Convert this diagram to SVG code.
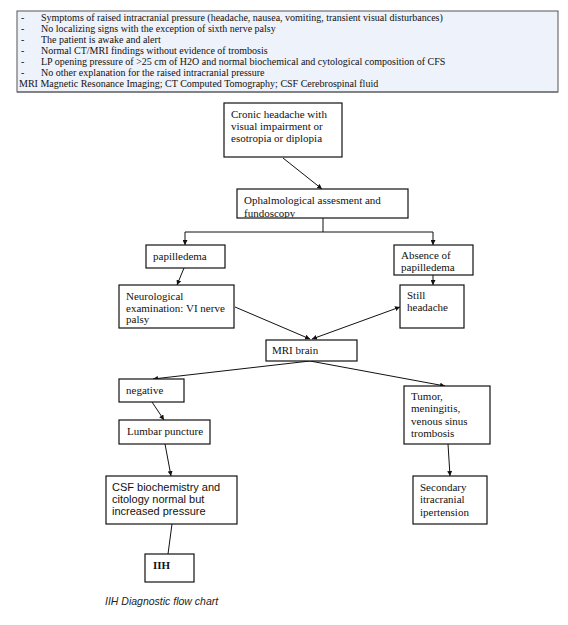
<svg xmlns="http://www.w3.org/2000/svg" width="568" height="625" viewBox="0 0 568 625">
<style>
.t{font-family:"Liberation Serif","Times New Roman",serif;font-size:11px;fill:#111}
.h{font-family:"Liberation Serif","Times New Roman",serif;font-size:10px;fill:#111}
.a{font-family:"Liberation Sans",Arial,sans-serif;font-size:11px;fill:#111}
.box{fill:#fff;stroke:#111;stroke-width:1.2}
.c{stroke:#111;stroke-width:1;fill:none}
</style>
<defs>
<marker id="ar" viewBox="0 0 10 10" refX="10" refY="5" markerWidth="5" markerHeight="5" orient="auto-start-reverse"><path d="M0,0L10,5L0,10z" fill="#111"/></marker>
<clipPath id="cp"><rect x="237" y="189" width="171" height="29"/></clipPath>
</defs>
<rect width="568" height="625" fill="#fff"/>
<g id="criteria">
<rect x="17" y="11" width="541" height="81" fill="#eef2fa" stroke="#555" stroke-width="1"/>
<line x1="17" y1="92" x2="558" y2="92" stroke="#777" stroke-width="1.5"/>
<text class="h" x="21" y="21">-</text><text class="h" x="41" y="21">Symptoms of raised intracranial pressure (headache, nausea, vomiting, transient visual disturbances)</text>
<text class="h" x="21" y="32">-</text><text class="h" x="41" y="32">No localizing signs with the exception of sixth nerve palsy</text>
<text class="h" x="21" y="43">-</text><text class="h" x="41" y="43">The patient is awake and alert</text>
<text class="h" x="21" y="54">-</text><text class="h" x="41" y="54">Normal CT/MRI findings without evidence of trombosis</text>
<text class="h" x="21" y="65">-</text><text class="h" x="41" y="65">LP opening pressure of &gt;25 cm of H2O and normal biochemical and cytological composition of CFS</text>
<text class="h" x="21" y="76">-</text><text class="h" x="41" y="76">No other explanation for the raised intracranial pressure</text>
<text class="h" x="19" y="87">MRI Magnetic Resonance Imaging; CT Computed Tomography; CSF Cerebrospinal fluid</text>
</g>
<g id="connectors">
<line class="c" x1="283" y1="158" x2="322" y2="189" marker-end="url(#ar)"/>
<polyline class="c" points="323,218 323,232 185,232 185,245" marker-end="url(#ar)"/>
<polyline class="c" points="323,232 433,232 433,245" marker-end="url(#ar)"/>
<line class="c" x1="184" y1="268" x2="177" y2="285" marker-end="url(#ar)"/>
<line class="c" x1="433" y1="275" x2="433" y2="285" marker-end="url(#ar)"/>
<line class="c" x1="235" y1="307" x2="310" y2="339" marker-end="url(#ar)"/>
<line class="c" x1="400" y1="307" x2="312" y2="339" marker-start="url(#ar)" marker-end="url(#ar)"/>
<line class="c" x1="310" y1="361" x2="153" y2="379" marker-end="url(#ar)"/>
<line class="c" x1="310" y1="361" x2="445" y2="386" marker-end="url(#ar)"/>
<line class="c" x1="152" y1="402" x2="164" y2="420" marker-end="url(#ar)"/>
<line class="c" x1="165" y1="444" x2="171" y2="476" marker-end="url(#ar)"/>
<line class="c" x1="448" y1="444" x2="450" y2="476" marker-end="url(#ar)"/>
<line class="c" x1="172" y1="524" x2="168" y2="554"/>
</g>
<g id="n1"><rect class="box" x="224" y="103" width="118" height="54"/>
<text class="t" x="231" y="118">Cronic headache with</text><text class="t" x="231" y="130">visual impairment or</text><text class="t" x="231" y="142">esotropia or diplopia</text></g>
<g id="n2"><rect class="box" x="237" y="189" width="171" height="29"/>
<g clip-path="url(#cp)"><text class="t" x="244" y="204">Ophalmological assesment and</text><text class="t" x="244" y="216.5">fundoscopy</text></g></g>
<g id="n3"><rect class="box" x="146" y="245" width="79" height="23"/><text class="t" x="153" y="260">papilledema</text></g>
<g id="n4"><rect class="box" x="394" y="245" width="79" height="30"/><text class="t" x="401" y="259">Absence of</text><text class="t" x="401" y="271">papilledema</text></g>
<g id="n5"><rect class="box" x="119" y="285" width="115" height="43"/><text class="t" x="126" y="300">Neurological</text><text class="t" x="126" y="312">examination: VI nerve</text><text class="t" x="126" y="323">palsy</text></g>
<g id="n6"><rect class="box" x="400" y="285" width="64" height="43"/><text class="t" x="407" y="299">Still</text><text class="t" x="407" y="311">headache</text></g>
<g id="n7"><rect class="box" x="266" y="340" width="91" height="21"/><text class="t" x="272" y="354">MRI brain</text></g>
<g id="n8"><rect class="box" x="119" y="379" width="65" height="23"/><text class="t" x="126" y="394">negative</text></g>
<g id="n9"><rect class="box" x="119" y="420" width="91" height="24"/><text class="t" x="127" y="435">Lumbar puncture</text></g>
<g id="n10"><rect class="box" x="106" y="476" width="131" height="48"/><text class="a" x="112" y="491">CSF biochemistry and</text><text class="a" x="112" y="503">citology normal but</text><text class="a" x="112" y="515">increased pressure</text></g>
<g id="n11"><rect class="box" x="404" y="386" width="86" height="58"/><text class="t" x="411" y="400">Tumor,</text><text class="t" x="411" y="412">meningitis,</text><text class="t" x="411" y="425">venous sinus</text><text class="t" x="411" y="437">trombosis</text></g>
<g id="n12"><rect class="box" x="413" y="476" width="74" height="48"/><text class="t" x="420" y="491">Secondary</text><text class="t" x="420" y="503">itracranial</text><text class="t" x="420" y="516">ipertension</text></g>
<g id="n13"><rect class="box" x="145" y="554" width="49" height="28"/><text class="t" x="153" y="569" font-weight="bold">IIH</text></g>
<text x="105" y="605" font-family="Liberation Sans,Arial,sans-serif" font-size="10.5" font-style="italic" fill="#222">IIH Diagnostic flow chart</text>
</svg>
